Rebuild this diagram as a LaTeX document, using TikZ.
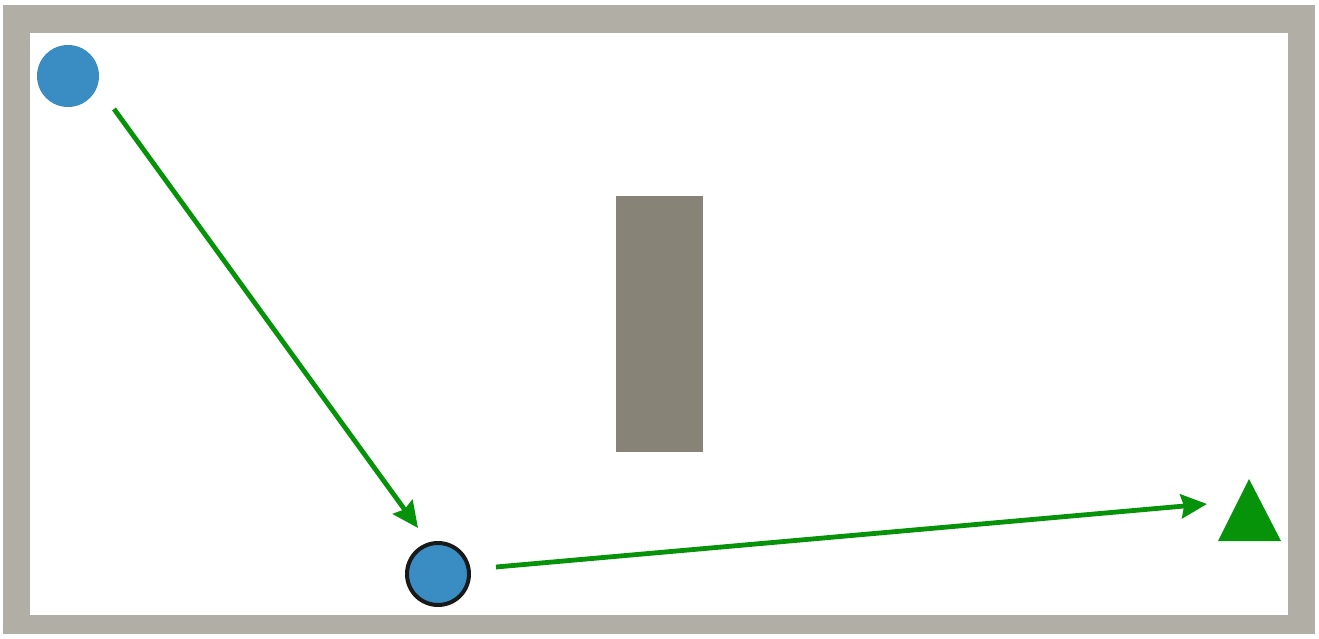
\documentclass[tikz,border=0pt]{standalone}
\usepackage{tikz}
\usetikzlibrary{arrows.meta}

\definecolor{wallgray}{HTML}{B1AEA6}
\definecolor{blockgray}{HTML}{878376}
\definecolor{ballblue}{HTML}{3A8DC3}
\definecolor{pathgreen}{HTML}{06930A}

\begin{document}
\begin{tikzpicture}[x=1pt, y=-1pt,
  ball/.style={circle, fill=ballblue, inner sep=0pt},
  move/.style={pathgreen, line width=4.8pt, -{Stealth[length=26pt, width=24pt, inset=3pt]}}]
  \useasboundingbox (0, 0) rectangle (1319, 639);
  % arena
  \fill[wallgray] (3, 5) rectangle (1315, 634);
  \fill[white] (30, 33) rectangle (1288, 615);
  \fill[blockgray] (616, 196) rectangle (703, 452);
  % balls and target
  \node [ball, minimum size=62pt] at (68, 76) (start) {};
  \node [ball, draw=black!90, line width=4pt, minimum size=62pt] at (438, 574) (bounce) {};
  \fill[pathgreen] (1249, 479) coordinate (goal) -- (1281, 541) -- (1218, 541) -- cycle;
  % shots
  \coordinate (start out) at (114, 109);
  \coordinate (bounce in) at (418, 528);
  \coordinate (bounce out) at (496, 567);
  \coordinate (goal in) at (1207, 504);
  \draw [move] (start out) -- (bounce in);
  \draw [move] (bounce out) -- (goal in);
\end{tikzpicture}
\end{document}
